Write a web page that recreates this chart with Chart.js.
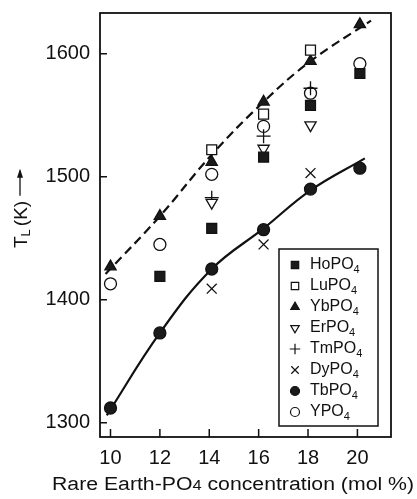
<!DOCTYPE html>
<html><head><meta charset="utf-8">
<script src="https://cdn.jsdelivr.net/npm/chart.js@4"></script>
<style>html,body{margin:0;padding:0;background:#fff}#w{width:417px;height:499px}</style>
</head><body><div id="w"><canvas id="c" width="417" height="499"></canvas></div>
<script>
// ---- data ----
const concentrations = [10, 12, 14.1, 16.2, 18.1, 20.1];
const xTicks = [10, 12, 14, 16, 18, 20];
const yTicks = [1300, 1400, 1500, 1600];
const HoPO4 = [null, 1419, 1458, 1516, 1558, 1584];
const LuPO4 = [null, null, 1522, 1551, 1603, null];
const YbPO4 = [1427, 1468, 1512, 1561, 1594, 1624];
const ErPO4 = [null, null, 1479, 1523, 1542, null];
const TmPO4 = [null, null, 1483, 1533, 1572, null];
const DyPO4 = [null, null, 1409, 1445, 1503, null];
const TbPO4 = [1312, 1373, 1425, 1457, 1490, 1507];
const YPO4  = [1413, 1445, 1502, 1541, 1568, 1592];
const dashedCurveX = [9.8, 12, 14.1, 16.2, 18.1, 20.55];
const dashedCurveY = [1421, 1468, 1518, 1561, 1594, 1627];
const solidCurveX = [9.85, 12, 14.1, 16.2, 18.1, 20.3];
const solidCurveY = [1306, 1373, 1425, 1458, 1489, 1515];
const xTitle = 'Rare Earth-PO₄ concentration (mol %)';

const FONT = "'Liberation Sans', Arial, Helvetica, sans-serif";
const INK = '#111';

function pts(xs, ys) {
  const out = [];
  xs.forEach((x, i) => { if (ys[i] !== null) out.push({x: x, y: ys[i]}); });
  return out;
}

function series(label, values, style, filled, radius, rotation) {
  return {
    label: label, type: 'scatter', data: pts(concentrations, values),
    pointStyle: style, pointRadius: radius, pointHoverRadius: radius,
    backgroundColor: filled ? '#1a1a1a' : '#fff', borderColor: INK,
    borderWidth: 1.3, rotation: rotation || 0, order: 1, legendRadius: radius * 0.75
  };
}

const datasets = [
  {label: 'dashedCurve', type: 'line', data: pts(dashedCurveX, dashedCurveY), borderColor: INK,
   borderWidth: 2.2, borderDash: [9, 5], pointRadius: 0, tension: 0.4, fill: false, order: 10, isCurve: true},
  {label: 'solidCurve', type: 'line', data: pts(solidCurveX, solidCurveY), borderColor: INK,
   borderWidth: 2.2, pointRadius: 0, tension: 0.4, fill: false, order: 10, isCurve: true},
  series('HoPO₄', HoPO4, 'rect', true, 7),
  series('LuPO₄', LuPO4, 'rect', false, 7),
  series('YbPO₄', YbPO4, 'triangle', true, 6.5),
  series('ErPO₄', ErPO4, 'triangle', false, 6.5, 180),
  series('TmPO₄', TmPO4, 'cross', false, 7),
  series('DyPO₄', DyPO4, 'crossRot', false, 7),
  series('TbPO₄', TbPO4, 'circle', true, 6),
  series('YPO₄', YPO4, 'circle', false, 6)
];

function subText(ctx, text, x, y, big, small, drop) {
  const parts = text.split('₄');
  let cx = x;
  parts.forEach((p, i) => {
    ctx.font = big + 'px ' + FONT;
    ctx.fillText(p, cx, y); cx += ctx.measureText(p).width;
    if (i < parts.length - 1) {
      ctx.font = small + 'px ' + FONT;
      ctx.fillText('4', cx, y + drop); cx += ctx.measureText('4').width;
    }
  });
  return cx - x;
}

const framePlugin = {
  id: 'frame',
  afterDraw(chart) {
    const {ctx, chartArea: a, scales} = chart;
    ctx.save();
    ctx.strokeStyle = INK;
    ctx.lineWidth = 1.8;
    ctx.strokeRect(a.left, a.top, a.right - a.left, a.bottom - a.top);
    ctx.lineWidth = 1.5;
    ctx.beginPath();
    scales.y.ticks.forEach(t => {
      const py = scales.y.getPixelForValue(t.value);
      ctx.moveTo(a.left, py); ctx.lineTo(a.left + 7, py);
    });
    scales.x.ticks.forEach(t => {
      const px = scales.x.getPixelForValue(t.value);
      ctx.moveTo(px, a.bottom); ctx.lineTo(px, a.bottom - 8);
    });
    ctx.stroke();

    // x axis title (horizontally widened like the reference)
    ctx.save();
    ctx.fillStyle = INK;
    ctx.textBaseline = 'alphabetic';
    ctx.textAlign = 'left';
    ctx.font = '18px ' + FONT;
    const probe = document.createElement('canvas').getContext('2d');
    const w = subText(probe, xTitle, 0, 0, 18, 14, 0);
    const targetW = 362;
    ctx.translate(233 - targetW / 2, 490);
    ctx.scale(targetW / w, 1);
    subText(ctx, xTitle, 0, 0, 18, 14, 0);
    ctx.restore();

    // y axis title: T_L (K) -->
    ctx.save();
    ctx.translate(27, 248);
    ctx.rotate(-Math.PI / 2);
    ctx.fillStyle = INK;
    ctx.textBaseline = 'alphabetic';
    ctx.textAlign = 'left';
    ctx.font = '19px ' + FONT;
    let x = 0;
    ctx.fillText('T', x, 0); x += ctx.measureText('T').width;
    ctx.font = '13px ' + FONT;
    ctx.fillText('L', x, 3); x += ctx.measureText('L').width + 3;
    ctx.font = '19px ' + FONT;
    ctx.fillText('(K)', x, 0); x += ctx.measureText('(K)').width + 5;
    ctx.strokeStyle = INK; ctx.lineWidth = 1.3;
    ctx.beginPath(); ctx.moveTo(x, -7); ctx.lineTo(x + 25, -7); ctx.stroke();
    ctx.beginPath(); ctx.moveTo(x + 27, -7); ctx.lineTo(x + 18, -10); ctx.lineTo(x + 18, -4); ctx.closePath(); ctx.fill();
    ctx.restore();

    // legend
    const items = chart.data.datasets.filter(d => !d.isCurve);
    const bx = a.right - 112, by = a.bottom - 188, bw = 99, bh = 177;
    ctx.lineWidth = 1.5;
    ctx.strokeRect(bx, by, bw, bh);
    items.forEach((d, i) => {
      const cy = by + 16 + i * 21;
      ctx.save();
      ctx.fillStyle = d.backgroundColor; ctx.strokeStyle = INK; ctx.lineWidth = 1.2;
      Chart.helpers.drawPoint(ctx, {pointStyle: d.pointStyle, radius: d.legendRadius, rotation: d.rotation, borderWidth: 1.2}, bx + 16, cy);
      ctx.restore();
      ctx.fillStyle = INK;
      ctx.textBaseline = 'middle';
      ctx.textAlign = 'left';
      subText(ctx, d.label, bx + 31, cy, 16, 11, 5);
    });
    ctx.restore();
  }
};

new Chart(document.getElementById('c'), {
  data: {datasets: datasets},
  options: {
    responsive: false, animation: false, devicePixelRatio: 1,
    layout: {padding: {left: 0, right: 26, top: 13, bottom: 0}},
    plugins: {legend: {display: false}, tooltip: {enabled: false}},
    scales: {
      x: {
        type: 'linear', min: 9.575, max: 21.36,
        afterBuildTicks: s => { s.ticks = xTicks.map(v => ({value: v})); },
        afterFit: s => { s.height = 62; s.paddingLeft = 0; s.paddingRight = 0; },
        grid: {display: false, drawTicks: false}, border: {display: false},
        ticks: {color: INK, font: {family: FONT, size: 20}, padding: 9, maxRotation: 0, autoSkip: false,
                callback: v => String(v)}
      },
      y: {
        type: 'linear', min: 1288.4, max: 1633.2,
        afterBuildTicks: s => { s.ticks = yTicks.map(v => ({value: v})); },
        afterFit: s => { s.width = 100; s.paddingTop = 0; s.paddingBottom = 0; },
        grid: {display: false, drawTicks: false}, border: {display: false},
        ticks: {color: INK, font: {family: FONT, size: 20}, padding: 10, autoSkip: false,
                callback: v => String(v)}
      }
    }
  },
  plugins: [framePlugin]
});
</script>
</body></html>
